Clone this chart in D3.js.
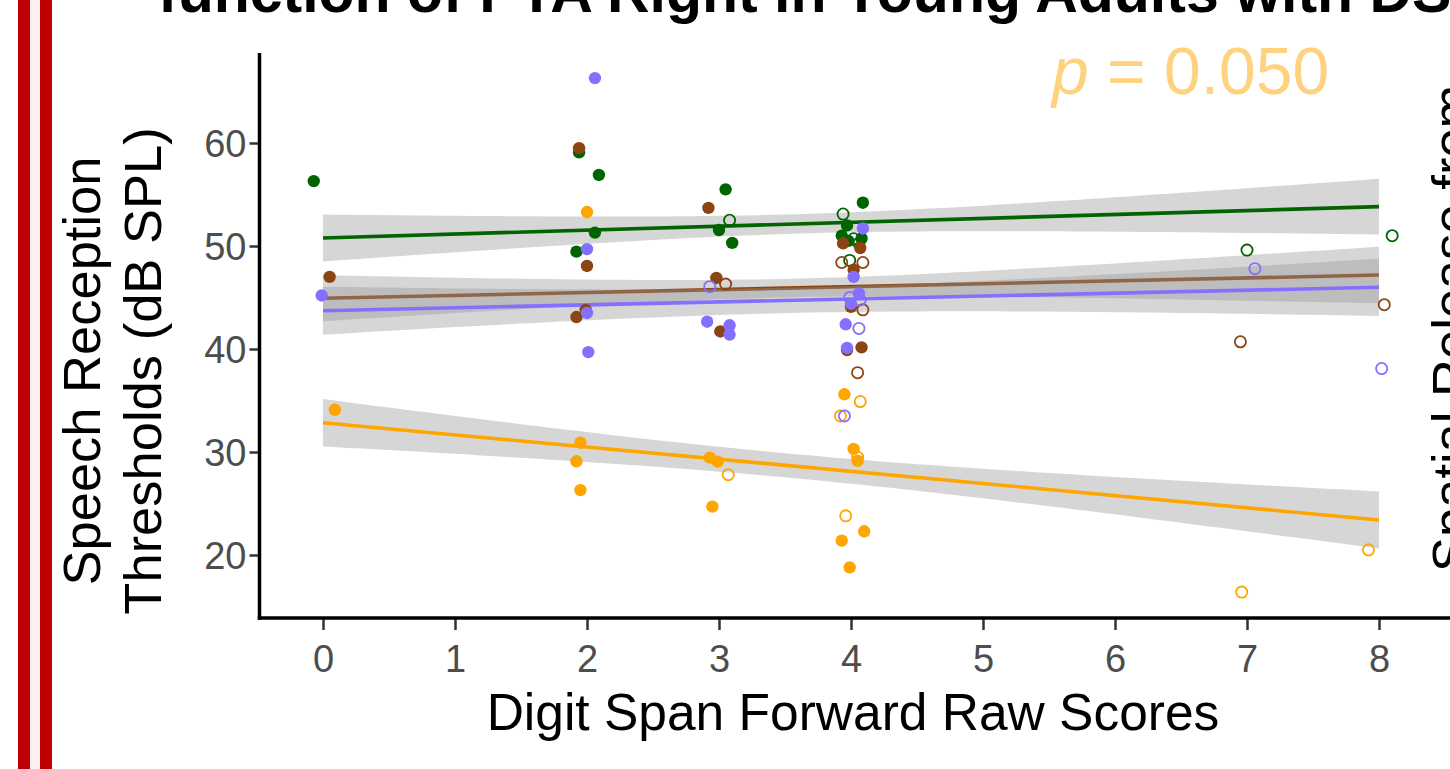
<!DOCTYPE html>
<meta charset="utf-8">
<script src="https://d3js.org/d3.v7.min.js"></script>
<style>
body { margin: 0; background: #fff; }
svg { display: block; font-family: "Liberation Sans", Arial, Helvetica, sans-serif; }
.tick text { fill: #4D4D4D; font-size: 38px; }
.tick line { stroke: #333; stroke-width: 2.5; }
</style>
<body>
<div id="chart"></div>
<script>
// axis ticks
var xTicks = [0, 1, 2, 3, 4, 5, 6, 7, 8];
var yTicks = [20, 30, 40, 50, 60];

// series (colour order as in the plot)
var seriesNames  = ["green", "brown", "orange", "purple"];
var seriesColors = ["#006400", "#8B4513", "#FFA500", "#8470FF"];

// points: [digit span (jittered), SRT dB SPL, open circle?]
var greenPts = [
  [-0.07, 56.3, 0], [1.94, 59.1, 0], [2.09, 56.9, 0], [2.06, 51.3, 0], [1.92, 49.45, 0],
  [3.05, 55.5, 0], [3.08, 52.5, 1], [3.0, 51.55, 0], [3.1, 50.3, 0],
  [4.09, 54.2, 0], [3.94, 53.1, 1], [3.97, 52.0, 0], [3.93, 51.0, 0], [3.98, 50.5, 0],
  [4.02, 50.7, 1], [4.08, 50.75, 0], [4.06, 50.26, 1], [3.99, 48.6, 1],
  [7.0, 49.6, 1], [8.1, 51.0, 1]
];
var brownPts = [
  [0.05, 47.0, 0], [1.94, 59.5, 0], [2.0, 48.06, 0], [1.99, 43.8, 0], [1.92, 43.1, 0],
  [2.92, 53.7, 0], [2.98, 46.9, 0], [3.05, 46.3, 1], [3.01, 41.7, 0],
  [3.94, 50.26, 0], [4.07, 49.8, 0], [3.93, 48.4, 1], [4.09, 48.4, 1], [4.02, 47.7, 0],
  [4.0, 44.1, 0], [4.09, 43.8, 1], [3.97, 39.9, 0], [4.08, 40.16, 0], [4.05, 37.7, 1],
  [6.95, 40.7, 1], [8.04, 44.3, 1]
];
var orangePts = [
  [0.09, 34.1, 0], [2.0, 53.3, 0], [1.95, 30.9, 0], [1.92, 29.1, 0], [1.95, 26.3, 0],
  [2.93, 29.45, 0], [2.99, 29.06, 0], [3.07, 27.8, 1], [2.95, 24.7, 0],
  [3.95, 35.6, 0], [4.07, 34.9, 1], [3.92, 33.5, 1], [4.02, 30.3, 0], [4.05, 29.5, 1],
  [4.05, 29.15, 0], [3.96, 23.8, 1], [4.1, 22.3, 0], [3.93, 21.4, 0], [3.99, 18.8, 0],
  [6.96, 16.4, 1], [7.92, 20.5, 1]
];
var purplePts = [
  [-0.01, 45.2, 0], [2.06, 66.3, 0], [2.0, 49.7, 0], [2.0, 43.5, 0], [2.01, 39.7, 0],
  [2.93, 46.05, 1], [2.91, 42.65, 0], [3.08, 42.3, 0], [3.08, 41.4, 0],
  [4.09, 51.7, 0], [4.02, 47.0, 0], [4.06, 45.4, 0], [3.99, 45.0, 1], [4.0, 44.4, 0],
  [4.07, 44.76, 1], [3.96, 42.4, 0], [4.06, 42.0, 1], [3.97, 40.1, 0], [3.95, 33.5, 1],
  [7.06, 47.8, 1], [8.02, 38.1, 1]
];

// linear fits: value at x=0 and x=8, CI half width at x = 0, 4, 8
var fitAt0 = [50.78, 44.92, 32.84, 43.72];
var fitAt8 = [53.82, 47.18, 23.4, 45.99];
var ciAt0  = [2.28, 2.23, 2.3, 2.33];
var ciAt4  = [0.97, 0.94, 1.2, 1.26];
var ciAt8  = [2.7, 2.75, 2.77, 2.78];

var pText = "0.050";

var allPts = [greenPts, brownPts, orangePts, purplePts];

var W = 1450, H = 769;
var svg = d3.select("#chart").append("svg")
    .attr("width", W).attr("height", H);

svg.append("rect").attr("width", W).attr("height", H).attr("fill", "#fff");

// red stripes at the left edge
svg.append("rect").attr("x", 18).attr("y", 0).attr("width", 34).attr("height", H).attr("fill", "#C00000");
svg.append("rect").attr("x", 30).attr("y", 0).attr("width", 10).attr("height", H).attr("fill", "#FAF0F0");

var x = d3.scaleLinear().domain([0, 8]).range([323, 1379]);
var y = d3.scaleLinear().domain([20, 60]).range([555, 143]);
var panelLeft = 259.5, panelBottom = 618, panelTop = 53;

// ribbons + lines (brown before purple, so purple band overlays the brown line)
var drawOrder = [0, 2, 1, 3];
var xs = d3.range(0, 8.0001, 0.1);

drawOrder.forEach(function(i) {
  var u = ciAt0[i] * ciAt0[i], v = ciAt4[i] * ciAt4[i], w = ciAt8[i] * ciAt8[i];
  var c2 = (w - 2 * v + u) / 32, c1 = (v - u - 16 * c2) / 4;
  var fit = function(t) { return fitAt0[i] + (fitAt8[i] - fitAt0[i]) * t / 8; };
  var half = function(t) { return Math.sqrt(u + c1 * t + c2 * t * t); };

  svg.append("path")
      .datum(xs)
      .attr("fill", "#999999")
      .attr("fill-opacity", 0.4)
      .attr("d", d3.area()
          .x(function(t) { return x(t); })
          .y0(function(t) { return y(fit(t) - half(t)); })
          .y1(function(t) { return y(fit(t) + half(t)); }));

  svg.append("line")
      .attr("x1", x(0)).attr("y1", y(fitAt0[i]))
      .attr("x2", x(8)).attr("y2", y(fitAt8[i]))
      .attr("stroke", seriesColors[i])
      .attr("stroke-width", 3.6);
});

// points
[0, 1, 2, 3].forEach(function(i) {
  svg.append("g").selectAll("circle")
    .data(allPts[i])
    .enter().append("circle")
      .attr("cx", function(d) { return x(d[0]); })
      .attr("cy", function(d) { return y(d[1]); })
      .attr("r", function(d) { return d[2] ? 5.6 : 6.2; })
      .attr("fill", function(d) { return d[2] ? "none" : seriesColors[i]; })
      .attr("stroke", function(d) { return d[2] ? seriesColors[i] : "none"; })
      .attr("stroke-width", 1.8);
});

// axes
var xAxis = svg.append("g")
    .attr("transform", "translate(0," + panelBottom + ")")
    .call(d3.axisBottom(x).tickValues(xTicks).tickSize(12).tickPadding(0).tickFormat(d3.format("d")));
xAxis.select(".domain").remove();
xAxis.selectAll(".tick text").attr("dy", 0).attr("y", 54);

var yAxis = svg.append("g")
    .attr("transform", "translate(" + panelLeft + ",0)")
    .call(d3.axisLeft(y).tickValues(yTicks).tickSize(10).tickPadding(3));
yAxis.select(".domain").remove();
yAxis.selectAll(".tick text").attr("dy", "0.36em");

svg.append("line")
    .attr("x1", panelLeft).attr("x2", panelLeft)
    .attr("y1", panelTop).attr("y2", panelBottom + 1.75)
    .attr("stroke", "#000").attr("stroke-width", 3.5);
svg.append("line")
    .attr("x1", panelLeft - 1.75).attr("x2", W)
    .attr("y1", panelBottom).attr("y2", panelBottom)
    .attr("stroke", "#000").attr("stroke-width", 3.5);

// titles
svg.append("text")
    .attr("x", 158).attr("y", 12)
    .attr("font-size", 59).attr("font-weight", "bold").attr("fill", "#000")
    .text("function of PTA Right in Young Adults with DS");

svg.append("text")
    .attr("x", 853).attr("y", 730)
    .attr("text-anchor", "middle").attr("font-size", 51.5).attr("fill", "#000")
    .text("Digit Span Forward Raw Scores");

var yTitle = svg.append("text")
    .attr("transform", "translate(0,371) rotate(-90)")
    .attr("text-anchor", "middle").attr("font-size", 52.5).attr("fill", "#000");
yTitle.append("tspan").attr("x", 0).attr("y", 100).text("Speech Reception");
yTitle.append("tspan").attr("x", 0).attr("y", 161).text("Thresholds (dB SPL)");

svg.append("text")
    .attr("transform", "translate(1469,572) rotate(-90)")
    .attr("font-size", 52.5).attr("fill", "#000")
    .text("Spatial Release from");

var pLabel = svg.append("text")
    .attr("x", 1052).attr("y", 94)
    .attr("font-size", 66).attr("fill", "#FFD27F");
pLabel.append("tspan").attr("font-style", "italic").text("p");
pLabel.append("tspan").text(" = " + pText);
</script>
</body>
